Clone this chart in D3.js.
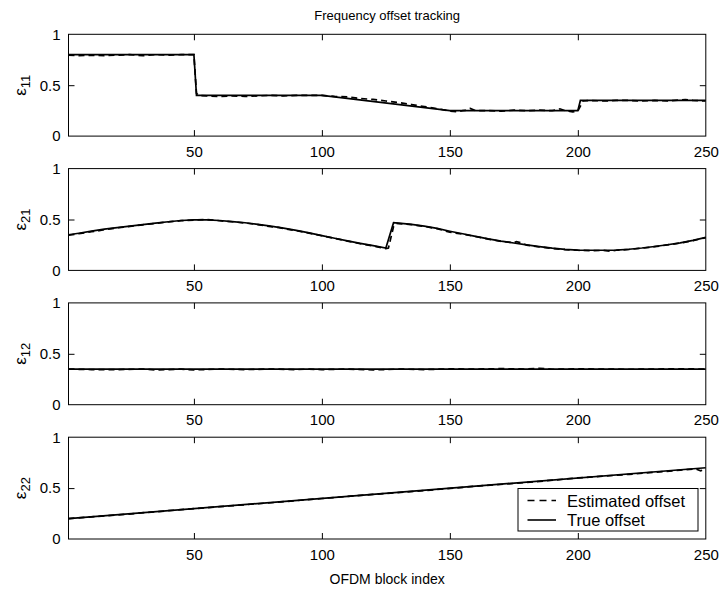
<!DOCTYPE html>
<html>
<head>
<meta charset="utf-8">
<script src="https://cdn.jsdelivr.net/npm/d3@7"></script>
<style>
  html, body { margin: 0; padding: 0; background: #fff; }
  svg { display: block; font-family: "Liberation Sans", Arial, Helvetica, sans-serif; }
</style>
</head>
<body>
<svg id="chart" width="720" height="594"></svg>
<script>
// ---------------- data ----------------
const titleText = "Frequency offset tracking";
const xLabelText = "OFDM block index";
const panelLabels = [["ε", "11"], ["ε", "21"], ["ε", "12"], ["ε", "22"]];
const xTicks = [50, 100, 150, 200, 250];
const yTicks = [0, 0.5, 1];
const yTickLabels = ["0", "0.5", "1"];
const legendLabels = ["Estimated offset", "True offset"];

// panel 1 (eps 11)
const trueX1 = [1, 50, 51, 100, 150, 200, 201, 250];
const trueY1 = [0.8, 0.8, 0.4, 0.4, 0.25, 0.25, 0.35, 0.35];
const estX1 = [1, 5, 10, 15, 20, 25, 30, 35, 40, 45, 50, 51, 52, 55, 60, 65, 70, 75, 80, 85, 90, 95, 100,
  105, 110, 115, 120, 125, 130, 135, 140, 145, 150, 153, 155, 156, 158, 160, 165, 170, 175, 180, 185, 190,
  192, 193, 195, 198, 200, 202, 205, 210, 215, 220, 225, 230, 235, 240, 242, 245, 250];
const estY1 = [0.795, 0.79, 0.795, 0.79, 0.795, 0.8, 0.79, 0.8, 0.795, 0.8, 0.8, 0.42, 0.4, 0.395, 0.39, 0.395, 0.39, 0.395, 0.4, 0.395, 0.4, 0.4, 0.4,
  0.39, 0.385, 0.37, 0.36, 0.345, 0.33, 0.31, 0.29, 0.27, 0.245, 0.238, 0.25, 0.252, 0.272, 0.25, 0.25, 0.245, 0.255, 0.25, 0.255, 0.25,
  0.258, 0.268, 0.25, 0.238, 0.245, 0.345, 0.35, 0.345, 0.35, 0.35, 0.345, 0.35, 0.345, 0.355, 0.358, 0.35, 0.345];

// panel 2 (eps 21)
const trueX2 = [1, 5, 10, 15, 20, 25, 30, 35, 40, 45, 50, 55, 60, 65, 70, 75, 80, 85, 90, 95, 100, 105, 110, 115, 120, 125,
  128, 130, 135, 140, 145, 150, 155, 160, 165, 170, 175, 180, 185, 190, 195, 200, 205, 210, 215, 220, 225, 230, 235, 240, 245, 250];
const trueY2 = [0.35, 0.365, 0.385, 0.405, 0.42, 0.435, 0.45, 0.465, 0.478, 0.49, 0.497, 0.497, 0.49, 0.48, 0.468, 0.452, 0.435, 0.415, 0.393, 0.368, 0.342, 0.316, 0.29, 0.266, 0.243, 0.22,
  0.468, 0.465, 0.452, 0.435, 0.412, 0.385, 0.36, 0.335, 0.31, 0.288, 0.269, 0.25, 0.233, 0.218, 0.207, 0.2, 0.198, 0.198, 0.2, 0.208, 0.22, 0.235, 0.252, 0.27, 0.295, 0.325];
const estX2 = [1, 5, 10, 13, 15, 20, 25, 30, 35, 40, 45, 50, 55, 60, 65, 70, 75, 80, 83, 85, 90, 95, 100, 105, 110, 115, 120, 125, 126,
  128, 129, 130, 135, 140, 145, 150, 155, 160, 165, 170, 175, 176, 178, 180, 185, 190, 195, 200, 205, 210, 213, 215, 220, 225, 230, 235, 240, 245, 250];
const estY2 = [0.345, 0.36, 0.38, 0.39, 0.4, 0.418, 0.432, 0.448, 0.462, 0.476, 0.488, 0.495, 0.5, 0.488, 0.478, 0.466, 0.45, 0.43, 0.422, 0.412, 0.39, 0.366, 0.34, 0.314, 0.288, 0.262, 0.24, 0.215, 0.22,
  0.43, 0.462, 0.46, 0.45, 0.432, 0.41, 0.375, 0.356, 0.333, 0.308, 0.285, 0.272, 0.282, 0.27, 0.248, 0.23, 0.216, 0.205, 0.198, 0.194, 0.196, 0.188, 0.198, 0.206, 0.218, 0.233, 0.25, 0.268, 0.293, 0.322];

// panel 3 (eps 12)
const trueX3 = [1, 250];
const trueY3 = [0.35, 0.35];
const estX3 = [1, 10, 20, 30, 35, 40, 45, 50, 60, 70, 80, 90, 95, 100, 110, 120, 125, 130, 140, 150, 160, 170, 180, 185, 190,
  200, 210, 220, 230, 240, 250];
const estY3 = [0.35, 0.345, 0.345, 0.35, 0.342, 0.345, 0.35, 0.342, 0.35, 0.345, 0.35, 0.345, 0.35, 0.345, 0.35, 0.342, 0.345, 0.35, 0.345, 0.352, 0.35, 0.354, 0.35, 0.358, 0.348,
  0.352, 0.35, 0.348, 0.35, 0.353, 0.35];

// panel 4 (eps 22)
const trueX4 = [1, 250];
const trueY4 = [0.2, 0.7];
const estX4 = [1, 20, 40, 60, 80, 100, 120, 140, 160, 180, 200, 220, 240, 246, 248, 250];
const estY4 = [0.2, 0.236, 0.278, 0.318, 0.356, 0.398, 0.438, 0.476, 0.518, 0.555, 0.6, 0.635, 0.676, 0.688, 0.67, 0.69];

const panels = [
  { tx: trueX1, ty: trueY1, ex: estX1, ey: estY1 },
  { tx: trueX2, ty: trueY2, ex: estX2, ey: estY2 },
  { tx: trueX3, ty: trueY3, ex: estX3, ey: estY3 },
  { tx: trueX4, ty: trueY4, ex: estX4, ey: estY4 }
];

// ---------------- layout ----------------
const svg = d3.select("#chart");
const left = 68.5, right = 705.8;
const firstTop = 34.3, panelH = 101.8, panelStep = 134.3;
const x = d3.scaleLinear().domain([1, 250]).range([left, right]);
const tickFont = 15;

svg.append("text")
  .attr("x", (left + right) / 2).attr("y", 20)
  .attr("text-anchor", "middle").attr("font-size", 13).attr("fill", "#000")
  .text(titleText);

panels.forEach((p, i) => {
  const top = firstTop + i * panelStep;
  const bottom = top + panelH;
  const y = d3.scaleLinear().domain([0, 1]).range([bottom, top]);
  const g = svg.append("g");

  const clipId = "clip" + i;
  svg.append("clipPath").attr("id", clipId)
    .append("rect").attr("x", left).attr("y", top).attr("width", right - left).attr("height", panelH);

  const line = d3.line().x(d => x(d[0])).y(d => y(d[1]));
  const estData = p.ex.map((v, k) => [v, p.ey[k]]);
  const trueData = p.tx.map((v, k) => [v, p.ty[k]]);

  const plot = g.append("g").attr("clip-path", `url(#${clipId})`);
  plot.append("path").datum(estData).attr("d", line)
    .attr("fill", "none").attr("stroke", "#000").attr("stroke-width", 1.7)
    .attr("stroke-dasharray", "6,4");
  plot.append("path").datum(trueData).attr("d", line)
    .attr("fill", "none").attr("stroke", "#000").attr("stroke-width", 1.7);

  // axes with inner ticks
  const xb = d3.axisBottom(x).tickValues(xTicks).tickSize(-6).tickPadding(10).tickFormat(d3.format("d"));
  const xt = d3.axisTop(x).tickValues(xTicks).tickSize(-6).tickFormat("");
  const yl = d3.axisLeft(y).tickValues(yTicks).tickSize(-6).tickPadding(8).tickFormat((d, k) => yTickLabels[k]);
  const yr = d3.axisRight(y).tickValues(yTicks).tickSize(-6).tickFormat("");

  const gx = g.append("g").attr("transform", `translate(0,${bottom})`).call(xb);
  const gxt = g.append("g").attr("transform", `translate(0,${top})`).call(xt);
  const gy = g.append("g").attr("transform", `translate(${left},0)`).call(yl);
  const gyr = g.append("g").attr("transform", `translate(${right},0)`).call(yr);
  [gx, gxt, gy, gyr].forEach(a => {
    a.select(".domain").remove();
    a.selectAll("line").attr("stroke", "#000").attr("stroke-width", 1);
    a.selectAll("text").attr("font-size", tickFont).attr("fill", "#000")
      .attr("font-family", "'Liberation Sans', Arial, sans-serif");
  });
  [gx, gxt].forEach(a => a.selectAll(".tick line").filter(d => d === 250).remove());
  [gy, gyr].forEach(a => a.selectAll(".tick line").filter(d => d === 0 || d === 1).remove());

  g.append("rect").attr("x", left).attr("y", top)
    .attr("width", right - left).attr("height", panelH)
    .attr("fill", "none").attr("stroke", "#000").attr("stroke-width", 1);

  // y label: epsilon with subscript, rotated
  const lab = svg.append("text")
    .attr("transform", `translate(26,${(top + bottom) / 2}) rotate(-90)`)
    .attr("text-anchor", "middle").attr("fill", "#000").attr("font-size", 17);
  lab.append("tspan").text(panelLabels[i][0]);
  lab.append("tspan").attr("font-size", 13).attr("dy", 4).text(panelLabels[i][1]);
});

// x label
svg.append("text")
  .attr("x", (left + right) / 2).attr("y", 584)
  .attr("text-anchor", "middle").attr("font-size", 14).attr("fill", "#000")
  .text(xLabelText);

// legend
const lg = svg.append("g");
lg.append("rect").attr("x", 518).attr("y", 488.5).attr("width", 180).attr("height", 42.5)
  .attr("fill", "#fff").attr("stroke", "#000").attr("stroke-width", 1);
const legendStyles = ["7,5", null];
legendLabels.forEach((t, k) => {
  const yy = 500.5 + k * 19.5;
  const ln = lg.append("line").attr("x1", 527.5).attr("x2", 556).attr("y1", yy).attr("y2", yy)
    .attr("stroke", "#000").attr("stroke-width", 1.6);
  if (legendStyles[k]) ln.attr("stroke-dasharray", legendStyles[k]);
  lg.append("text").attr("x", 567).attr("y", yy + 6).attr("font-size", 16.5).attr("fill", "#000").text(t);
});
</script>
</body>
</html>
